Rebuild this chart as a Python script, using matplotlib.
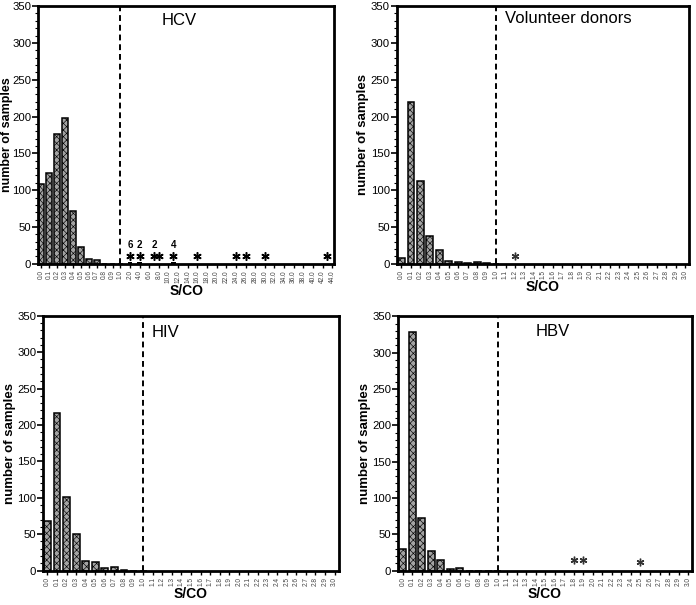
import matplotlib
matplotlib.use('Agg')
import matplotlib.pyplot as plt
import numpy as np

plt.rcParams['font.family'] = ['Liberation Sans', 'DejaVu Sans']
plt.rcParams['hatch.color'] = '#5c5c5c'
plt.rcParams['hatch.linewidth'] = 0.45

# S/CO bins
low_bins = [0.0, 0.1, 0.2, 0.3, 0.4, 0.5, 0.6, 0.7, 0.8, 0.9, 1.0]
hcv_high_bins = [2.0, 4.0, 6.0, 8.0, 10.0, 12.0, 14.0, 16.0, 18.0, 20.0, 22.0,
                 24.0, 26.0, 28.0, 30.0, 32.0, 34.0, 36.0, 38.0, 40.0, 42.0, 44.0]
fine_bins = [round(0.1 * i, 1) for i in range(31)]

# counts per bin
hcv_counts = [109, 123, 176, 198, 71, 23, 7, 5, 0, 0, 0]
vol_counts = [8, 220, 113, 38, 19, 4, 2, 1, 2, 1, 0]
hiv_counts = [68, 217, 101, 50, 13, 12, 4, 5, 1, 0, 0]
hbv_counts = [30, 328, 73, 27, 14, 2, 3, 0, 0, 0, 0]

# reactive samples above the cutoff (S/CO value, star height)
hcv_star_x = [2.0, 4.0, 7.0, 8.0, 11.0, 16.0, 24.0, 26.0, 30.0, 43.0]
hcv_star_y = [11, 11, 11, 11, 11, 11, 11, 11, 11, 11]
hcv_small_x = [2.0, 4.0, 11.0]
hcv_small_n = [3, 2, 2]
hcv_note_x = [2.0, 4.0, 7.0, 11.0]
hcv_note = ['6', '2', '2', '4']
vol_star_x = [1.2]
vol_star_y = [10]
hbv_star_x = [1.8, 1.9, 2.5]
hbv_star_y = [14, 14, 12]

fig = plt.figure(figsize=(6.96, 6.05), dpi=100)


def style(ax, ticks, labels, xlim, ylab_size=9.5):
    ax.set_ylim(0, 350)
    ax.set_xlim(*xlim)
    ax.set_yticks(np.arange(0, 351, 50))
    ax.set_yticks(np.arange(0, 351, 10), minor=True)
    ax.tick_params(axis='y', labelsize=8.2, length=4, width=1.2, pad=1)
    ax.tick_params(axis='y', which='minor', length=2, width=0.8)
    ax.set_xticks(ticks)
    ax.set_xticklabels(labels, rotation=90, fontsize=4.7, color='#444444')
    ax.tick_params(axis='x', length=3, width=1, pad=1.5)
    for s in ax.spines.values():
        s.set_linewidth(2)
    ax.set_xlabel('S/CO', fontsize=10, fontweight='bold', labelpad=1)
    ax.set_ylabel('number of samples', fontsize=ylab_size, fontweight='bold',
                  labelpad=1)
    ax.axvline(ticks[10], color='black', ls='--', lw=1.4, dashes=(3, 2))


def bars(ax, pos, counts):
    ax.bar(pos, counts, width=0.72, facecolor='#a3a3a3', edgecolor='black',
           linewidth=1.1, hatch='xxxxx', zorder=2)


# HCV panel: uneven axis
hcv_vals = low_bins + hcv_high_bins
hcv_pos = np.r_[np.arange(11), 11.2 + 1.22 * np.arange(22)]
ax1 = fig.add_axes([0.055, 0.564, 0.425, 0.426])
bars(ax1, hcv_pos[:11], hcv_counts)
ax1.bar(np.interp(hcv_small_x, hcv_vals, hcv_pos), hcv_small_n, width=0.6,
        color='black', zorder=2)
ax1.plot(np.interp(hcv_star_x, hcv_vals, hcv_pos), hcv_star_y, ls='none',
         marker=(6, 2, 0), ms=6, mew=1.1, color='black')
for xv, t in zip(hcv_note_x, hcv_note):
    ax1.text(np.interp(xv, hcv_vals, hcv_pos), 19, t, ha='center', va='bottom',
             fontsize=7, fontweight='bold')
style(ax1, hcv_pos, ['%.1f' % v for v in hcv_vals], (-0.4, 37.05), ylab_size=9)
ax1.yaxis.set_label_coords(-0.084, 0.5)
ax1.text(0.475, 0.945, 'HCV', transform=ax1.transAxes, ha='center', va='center',
         fontsize=12)

# Volunteer donors
fine_pos = np.arange(len(fine_bins))
fine_labels = ['%.1f' % v for v in fine_bins]
ax2 = fig.add_axes([0.570, 0.564, 0.420, 0.426])
bars(ax2, fine_pos[:11], vol_counts)
ax2.plot(np.interp(vol_star_x, fine_bins, fine_pos), vol_star_y, ls='none',
         marker=(6, 2, 0), ms=5.5, mew=1, color='#333333')
style(ax2, fine_pos, fine_labels, (-0.5, 30.4))
ax2.text(0.37, 0.95, 'Volunteer donors', transform=ax2.transAxes, ha='left',
         va='center', fontsize=12)

# HIV
ax3 = fig.add_axes([0.062, 0.057, 0.425, 0.421])
bars(ax3, fine_pos[:11], hiv_counts)
style(ax3, fine_pos, fine_labels, (-0.45, 30.45))
ax3.text(0.415, 0.934, 'HIV', transform=ax3.transAxes, ha='center', va='center',
         fontsize=12)

# HBV
ax4 = fig.add_axes([0.572, 0.057, 0.422, 0.420])
bars(ax4, fine_pos[:11], hbv_counts)
ax4.plot(np.interp(hbv_star_x, fine_bins, fine_pos), hbv_star_y, ls='none',
         marker=(6, 2, 0), ms=5.5, mew=1, color='#333333')
style(ax4, fine_pos, fine_labels, (-0.5, 30.4))
ax4.text(0.527, 0.94, 'HBV', transform=ax4.transAxes, ha='center', va='center',
         fontsize=12)

fig.savefig('out.png', dpi=100)
